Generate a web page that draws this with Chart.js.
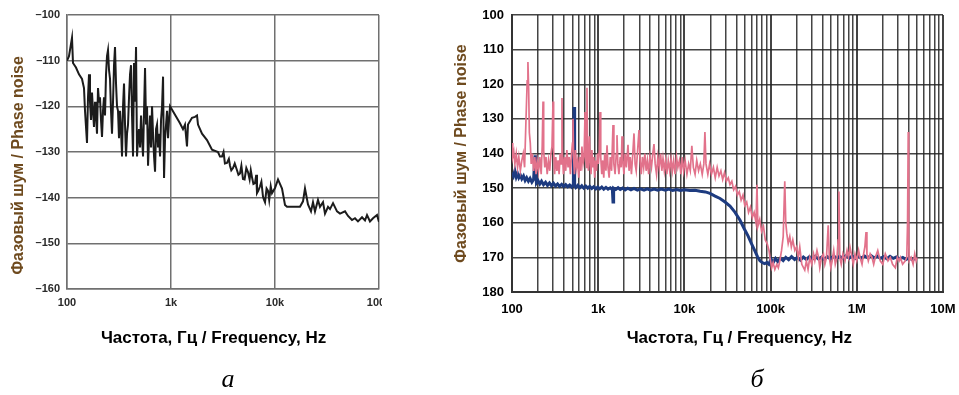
<!DOCTYPE html>
<html>
<head>
<meta charset="utf-8">
<script src="https://cdn.jsdelivr.net/npm/chart.js@4"></script>
<style>
  body { margin: 0; background: #fff; width: 959px; height: 395px; overflow: hidden; position: relative; }
  #boxA { position: absolute; left: 0; top: 0; width: 382px; height: 395px; }
  #boxB { position: absolute; left: 420px; top: 0; width: 539px; height: 395px; }
  .cap { position: absolute; width: 40px; text-align: center; font: italic 26px "Liberation Serif", "Times New Roman", serif; line-height: 26px; color: #000; }
</style>
</head>
<body>
<div id="boxA"><canvas id="chartA" width="382" height="395"></canvas></div>
<div id="boxB"><canvas id="chartB" width="539" height="395"></canvas></div>
<div class="cap" style="left:208px; top:366px;">а</div>
<div class="cap" style="left:737px; top:366px;">б</div>
<script>
const FONT = '"Liberation Sans", Arial, sans-serif';
const TITLE_COLOR = '#6e4a1e';

// ---- panel a ----
const freqA = [100, 104.5, 111.7, 114.2, 122, 130.4, 139.4, 145.7, 149, 155.7, 159.2, 162.8, 166.4, 170.1, 173.9, 177.8,
  181.8, 185.9, 190, 194.3, 198.7, 203.1, 207.6, 212.3, 217.1, 221.9, 226.9, 232, 237.2, 242.5, 247.9, 253.5,
  259.2, 265, 270.9, 277, 283.2, 289.5, 296, 302.6, 309.4, 316.3, 323.4, 330.7, 338.1, 345.7, 353.4, 361.3,
  369.4, 377.7, 386.2, 394.8, 403.7, 412.7, 422, 431.4, 441.1, 451, 461.1, 471.4, 482, 492.8, 503.8, 515.1,
  526.6, 538.4, 550.5, 562.8, 575.5, 588.3, 601.5, 615, 628.8, 642.8, 657.2, 671.9, 687, 702.4, 718.1, 734.2,
  750.6, 767.4, 784.6, 802.2, 820.2, 838.6, 857.3, 876.5, 896.2, 916.2, 936.7, 957.7, 979.1,
  1220, 1304, 1363, 1425, 1457, 1592, 1701, 1778, 1818, 1987, 2219, 2479, 2831, 2960, 3093, 3200, 3300, 3455,
  3600, 3692, 3800, 3946, 4100, 4311, 4450, 4605, 4750, 4922, 5100, 5300, 5498, 5700, 5850, 6006, 6200, 6421,
  6600, 6713, 6900, 7178, 7400, 7670, 7850, 8014, 8300, 8565, 8800, 9100, 9359, 10000, 10690, 11680, 12480,
  13040, 17390, 18590, 19420, 20760, 22190, 23190, 24240, 25900, 27080, 28950, 30260, 32350, 33800, 36130,
  39480, 42170, 47120, 50370, 55000, 58760, 62810, 68670, 73360, 76700, 81900, 87560, 95700, 100000];
const noiseA = [-110, -109, -105, -110.5, -111.5, -113, -114, -116, -121, -128, -118, -113, -119, -123, -117, -121,
  -124.5, -119, -122, -126, -116, -119, -118, -123, -126.7, -121, -118, -122, -113, -109, -107.7, -112,
  -114, -121, -126, -119, -111, -107, -115, -120, -121, -127, -121, -125, -131, -120, -115, -124,
  -131, -126, -124, -118, -113, -111, -122, -131, -110.5, -119, -107, -131, -127, -125, -129, -122,
  -127, -131, -121, -111.6, -124, -120, -133, -127, -122, -129, -120, -126, -131, -134.3, -125, -124,
  -129, -126, -131, -123, -120, -113.5, -135.7, -127, -124, -121, -127, -123, -120,
  -123.7, -125, -124, -128.8, -124, -122.5, -122.3, -122, -124, -126, -127.4, -129.5, -130, -131, -131, -130, -132.5, -132.4,
  -131.5, -133, -134, -133.5, -132.5, -134, -135, -134.7, -133, -135.9, -136, -133.5, -134.4, -136, -134, -135.5, -137, -136.8,
  -135, -139, -138.5, -137.5, -136.5, -139.8, -140.5, -141, -138, -138.5, -140.5, -137.5, -139, -137.9, -136, -138, -141.6,
  -142, -142, -140.8, -138, -141.5, -143, -141, -143, -140.5, -142, -141, -143.5, -142, -142.5, -141.2,
  -143, -143.5, -143, -144, -144.9, -144.5, -145.2, -144.3, -145, -143.8, -145.2, -144.5, -143.8, -145.3];
const xTickValsA = [100, 1000, 10000, 100000];
const xTickLabelsA = ['100', '1k', '10k', '100k'];

// ---- panel b ----
const freqPink = [100, 102, 105, 108, 112, 116, 120, 125, 130, 135, 140, 145, 150, 153, 156, 159, 163, 167, 172, 178,
  184, 190, 196, 203, 210, 218, 224, 229, 233, 240, 248, 256, 265, 274, 283, 291, 299, 304, 312, 322, 332, 342,
  352, 362, 372, 380, 385, 395, 408, 420, 433, 447, 461, 476, 491, 503, 510, 518, 530, 545, 560, 577, 594, 612,
  630, 648, 667, 686, 704, 715, 730, 741, 752, 770, 790, 805, 825, 845, 866, 888, 910, 933, 956, 980, 1005,
  1030, 1050, 1070, 1100, 1130, 1160, 1190, 1230, 1266, 1300, 1340, 1380, 1430, 1485, 1520, 1570, 1620, 1652,
  1690, 1740, 1800, 1850, 1889, 1930, 1990, 2050, 2120, 2217, 2280, 2350, 2430, 2520, 2602, 2680, 2760, 2850,
  2973, 3060, 3160, 3260, 3370, 3480, 3600, 3720, 3850, 3980, 4150, 4300, 4437, 4580, 4750, 4920, 5100, 5300,
  5470, 5646, 5850, 6050, 6250, 6500, 6750, 6993, 7250, 7500, 7800, 8100, 8400, 8750, 9100, 9450, 9800, 10200,
  10700, 11200, 11700, 12200, 12700, 13300, 13900, 14600, 15300, 16100, 16800, 17300, 17800, 18700, 19600,
  20600, 21700, 22800, 24000, 25200, 26500, 27800, 29200, 30700, 32300, 33800, 35500, 37300, 39200, 41200,
  43300, 45500, 47800, 50200, 52800, 55500, 58300, 61300, 64400, 67700, 69500, 71200, 74800, 78600, 82600,
  86800, 91200, 95800, 98300, 103000, 107000, 112000, 118000, 123000, 128000, 134000, 140000, 146000, 150000,
  154000, 160000, 167000, 174000, 181000, 191000, 200000, 210000, 218000, 230000, 249000, 260000, 272000,
  285000, 300000, 315000, 326000, 345000, 360000, 372000, 390000, 410000, 426000, 445000, 466000, 480000,
  500000, 518000, 540000, 563000, 590000, 607000, 620000, 635000, 660000, 690000, 730000, 770000, 800000,
  834000, 880000, 910000, 953000, 1000000, 1050000, 1090000, 1150000, 1200000, 1240000, 1280000, 1310000,
  1360000, 1430000, 1500000, 1570000, 1640000, 1750000, 1870000, 2000000, 2140000, 2300000, 2450000, 2600000,
  2800000, 2950000, 3100000, 3200000, 3400000, 3650000, 3800000, 3880000, 3950000, 4000000, 4050000, 4270000,
  4500000, 4700000, 4880000, 5000000];
const noisePink = [137, 141, 139.5, 143, 140, 144, 141, 145, 142, 140, 144, 131, 119, 113.6, 121, 134, 137, 143, 140, 145,
  141, 146, 142, 145, 141, 146, 138, 125, 139, 144, 141, 146, 142, 145, 140, 138, 125, 139, 146, 141, 145, 142,
  146, 140, 143, 124, 140, 146, 141, 145, 139, 144, 141, 146, 140, 137, 130, 141, 146, 139, 144, 142, 147, 141,
  145, 138, 143, 141, 128, 140, 144, 121, 140, 145, 135, 141, 146, 139, 144, 141, 147, 142, 145, 140, 143,
  139, 128, 141, 146, 142, 147, 140, 145, 137.6, 144, 147, 141, 145, 131.8, 143, 146, 140, 134.7,
  143, 146, 141, 144, 135, 142, 146, 140, 144, 137.5, 145, 141, 146, 140, 134.2, 143, 145, 140,
  133.2, 142, 146, 141, 144, 140, 145, 142, 146, 141, 144, 140, 137.3, 143, 146, 141, 144, 140,
  145, 141.4, 145, 142, 146, 142, 145, 141.5, 145, 142, 146, 141, 144, 142, 146, 141, 145, 142,
  146, 143, 145, 137.8, 144, 146, 142, 145, 143, 146, 143, 133.8, 143, 146, 143,
  146, 144, 147, 144, 146.5, 145, 147.5, 145.5, 148, 147, 149, 148, 150.5, 149.5, 152,
  151, 153.5, 152, 155, 154, 157, 155.5, 158.5, 157, 160, 149, 161, 159, 162.5, 161,
  165, 166, 168, 170, 173, 171.5, 173.5, 172, 173, 171, 168, 164, 148, 160,
  163, 166, 164, 167, 165, 168, 167, 170, 167, 172, 173.7, 171, 173.5,
  170, 172, 169, 171, 168, 170, 173, 170, 169, 172, 170, 160.7, 170,
  173, 171, 168, 172, 170, 165, 151, 170, 172, 169, 171, 168, 170,
  167, 170, 172, 169, 171, 168, 170, 172, 169, 167, 162.7, 169,
  171, 169, 170, 172, 170, 168, 171, 172, 169, 171, 170, 172,
  173, 170, 171, 170, 172, 171, 170, 160, 133.8, 165, 171, 170,
  172, 169, 171, 170];
const freqNavy = [100, 104, 108, 112, 116, 120, 125, 130, 136, 142, 148, 155, 162, 170, 178, 185, 188, 192, 200, 210,
  220, 232, 245, 258, 272, 287, 303, 320, 338, 357, 377, 398, 420, 443, 467, 493, 515, 524, 533, 550, 580, 612,
  645, 680, 718, 757, 798, 842, 888, 937, 988, 1040, 1100, 1160, 1230, 1300, 1380, 1460, 1485, 1510, 1600,
  1700, 1800, 1920, 2050, 2200, 2400, 2600, 2850, 3100, 3400, 3700, 4050, 4450, 4900, 5400, 6000, 6600, 7300,
  8100, 9000, 10000, 11600, 13300, 15200, 17500, 19800, 22700, 25900, 29600, 33800, 38700, 44200, 49600,
  54700, 60000, 65900, 70500, 75300, 80000, 85000, 90800, 95500, 101000, 107000, 114000, 121000, 130000,
  140000, 150000, 162000, 175000, 190000, 205000, 222000, 240000, 260000, 282000, 305000, 330000, 360000,
  390000, 420000, 455000, 495000, 540000, 585000, 635000, 690000, 750000, 815000, 885000, 960000, 1040000,
  1130000, 1230000, 1340000, 1460000, 1590000, 1730000, 1880000, 2050000, 2230000, 2430000, 2650000,
  2880000, 3140000, 3420000, 3730000, 4060000, 4420000, 4810000, 5000000];
const noiseNavy = [145.5, 146.5, 145, 146.8, 145.8, 147, 146.2, 147.3, 146.5, 147.8, 147, 148, 147.2, 148.3, 147.5, 140.5, 143, 148.5, 147.8, 148.8,
  148, 149, 148.3, 149.2, 148.5, 149.3, 148.6, 149.4, 148.8, 149.5, 148.9, 149.5, 149, 149.6, 149.1, 149.7, 149, 126.6, 149.2, 149.8, 149.2, 149.9,
  149.3, 150, 149.4, 150, 149.5, 150.1, 149.6, 150.2, 149.7, 150.2, 149.7, 150.3, 149.8, 150.3, 149.9, 150.4, 154, 150, 150.4,
  149.9, 150.4, 150, 150.5, 150, 150.5, 150.1, 150.6, 150.2, 150.6, 150.2, 150.6, 150.3, 150.6, 150.3, 150.6, 150.3, 150.7,
  150.4, 150.7, 150.5, 150.7, 150.6, 150.9, 151.1, 151.5, 152.3, 153, 154, 155.2, 157, 159.3, 161.8,
  163.8, 166, 168.2, 169.8, 171, 171.5, 171.8, 171.5, 172, 170.5, 171.5, 170.3, 171.2, 170.2,
  170.9, 170, 170.7, 169.8, 170.6, 170, 170.8, 169.9, 170.6, 169.8, 170.5, 169.7, 170.5,
  169.9, 170.6, 169.8, 170.4, 169.6, 170.3, 169.7, 170.3, 169.5, 170.2, 169.6, 170.3, 169.7,
  170.2, 169.6, 170.1, 169.5, 170.2, 169.6, 170.3, 169.8, 170.4, 169.7, 170.3,
  169.9, 170.5, 170, 170.6, 170.1, 170.7, 170.3, 170.5];
const xTickValsB = [100, 1000, 10000, 100000, 1000000, 10000000];
const xTickLabelsB = ['100', '1k', '10k', '100k', '1M', '10M'];

const pts = (xs, ys) => xs.map((x, i) => ({ x: x, y: ys[i] }));

// ---- chart a ----
new Chart(document.getElementById('chartA').getContext('2d'), {
  type: 'line',
  data: {
    datasets: [{
      data: pts(freqA, noiseA),
      borderColor: '#1c1c1c',
      borderWidth: 2,
      pointRadius: 0,
      tension: 0
    }]
  },
  options: {
    responsive: false,
    animation: false,
    layout: { padding: { top: 15, right: 3, bottom: 0, left: 0 } },
    plugins: { legend: { display: false }, tooltip: { enabled: false } },
    scales: {
      x: {
        type: 'logarithmic',
        min: 100, max: 100000,
        afterBuildTicks: s => { s.ticks = xTickValsA.map(v => ({ value: v })); },
        afterFit: s => { s.height = 106; s.paddingLeft = 0; s.paddingRight = 0; },
        ticks: {
          autoSkip: false, maxRotation: 0, padding: 7, color: '#2a2a2a',
          font: { family: FONT, size: 11, weight: 'bold' },
          callback: v => { const i = xTickValsA.indexOf(v); return i >= 0 ? xTickLabelsA[i] : ''; }
        },
        grid: { color: '#707070', lineWidth: 1.5, drawTicks: false },
        border: { color: '#707070', width: 1.5 },
        title: {
          display: true, text: 'Частота, Гц / Frequency, Hz    ', color: '#000',
          font: { family: FONT, size: 17, weight: 'bold' }, padding: { top: 0, bottom: 46.8 }
        }
      },
      y: {
        min: -160, max: -100,
        afterFit: s => { s.width = 67; s.paddingTop = 0; s.paddingBottom = 0; },
        ticks: {
          stepSize: 10, padding: 7, color: '#2a2a2a',
          font: { family: FONT, size: 11, weight: 'bold' },
          callback: v => '\u2013' + Math.abs(v)
        },
        grid: { color: '#707070', lineWidth: 1.5, drawTicks: false },
        border: { color: '#707070', width: 1.5 },
        title: {
          display: true, text: 'Фазовый шум / Phase noise      ', color: TITLE_COLOR,
          font: { family: FONT, size: 16, weight: 'bold' }, padding: { top: 9.4, bottom: 0 }
        }
      }
    }
  }
});

// ---- chart b ----
const isDecade = v => xTickValsB.indexOf(v) >= 0;
new Chart(document.getElementById('chartB').getContext('2d'), {
  type: 'line',
  data: {
    datasets: [{
      data: pts(freqPink, noisePink),
      borderColor: '#e2728b',
      borderWidth: 1.7,
      pointRadius: 0,
      tension: 0
    }, {
      data: pts(freqNavy, noiseNavy),
      borderColor: '#1d3b80',
      borderWidth: 3,
      pointRadius: 0,
      tension: 0
    }]
  },
  options: {
    responsive: false,
    animation: false,
    layout: { padding: { top: 15, right: 16, bottom: 0, left: 0 } },
    plugins: { legend: { display: false }, tooltip: { enabled: false } },
    scales: {
      x: {
        type: 'logarithmic',
        min: 100, max: 10000000,
        afterBuildTicks: s => {
          const t = [];
          for (let d = 100; d < 10000000; d *= 10) {
            for (let m = 1; m < 10; m++) t.push({ value: d * m });
          }
          t.push({ value: 10000000 });
          s.ticks = t;
        },
        afterFit: s => { s.height = 103; s.paddingLeft = 0; s.paddingRight = 0; },
        ticks: {
          autoSkip: false, maxRotation: 0, padding: 10, color: '#000',
          font: { family: FONT, size: 13, weight: 'bold' },
          callback: v => { const i = xTickValsB.indexOf(v); return i >= 0 ? xTickLabelsB[i] : ''; }
        },
        grid: {
          color: 'rgba(35,35,35,0.85)', drawTicks: false,
          lineWidth: c => (c.tick && isDecade(c.tick.value)) ? 2 : 1.5
        },
        border: { color: '#333', width: 2 },
        title: {
          display: true, text: '     Частота, Гц / Frequency, Hz', color: '#000',
          font: { family: FONT, size: 17, weight: 'bold' }, padding: { top: 0, bottom: 46.8 }
        }
      },
      y: {
        min: 100, max: 180, reverse: true,
        afterFit: s => { s.width = 92; s.paddingTop = 0; s.paddingBottom = 0; },
        ticks: {
          stepSize: 10, padding: 8, color: '#000',
          font: { family: FONT, size: 13, weight: 'bold' }
        },
        grid: { color: 'rgba(35,35,35,0.85)', lineWidth: 1.5, drawTicks: false },
        border: { color: '#333', width: 2 },
        title: {
          display: true, text: 'Фазовый шум / Phase noise', color: TITLE_COLOR,
          font: { family: FONT, size: 16, weight: 'bold' }, padding: { top: 32.4, bottom: 0 }
        }
      }
    }
  }
});
</script>
</body>
</html>
